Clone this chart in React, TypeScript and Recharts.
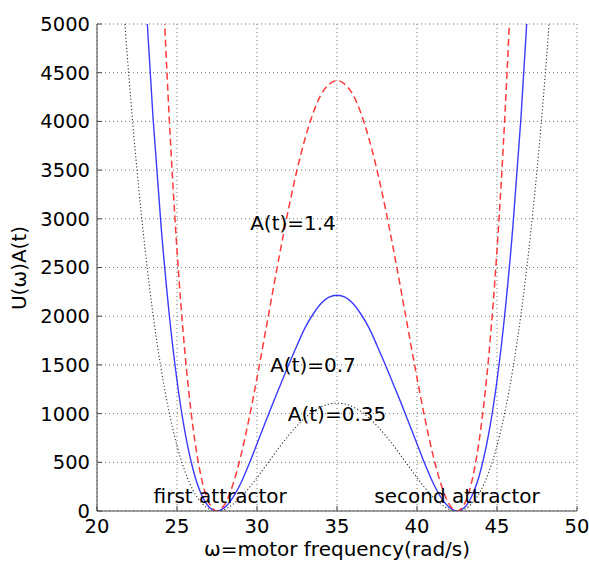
import React from 'react';
import { LineChart, Line, XAxis, YAxis, CartesianGrid, ReferenceDot, Label } from 'recharts';

// motor frequency samples (rad/s)
const omega = [
  21.5, 22, 22.5, 23, 23.5, 24, 24.5, 25, 25.5, 26, 26.5, 27, 27.5, 28, 28.5, 29, 29.5, 30, 30.5, 31,
  31.5, 32, 32.5, 33, 33.5, 34, 34.5, 35, 35.5, 36, 36.5, 37, 37.5, 38, 38.5, 39, 39.5, 40, 40.5, 41,
  41.5, 42, 42.5, 43, 43.5, 44, 44.5, 45, 45.5, 46, 46.5, 47, 47.5, 48, 48.5,
];

// U(w)A(t) for A(t)=1.4
const a140 = [
  22226, 17798, 14000, 10780, 8086, 5870, 4082, 2680, 1618, 858, 358, 84, 0, 74, 274, 574, 946, 1367, 1814, 2268,
  2710, 3126, 3500, 3822, 4082, 4274, 4380, 4420, 4380, 4274, 4082, 3822, 3500, 3126, 2710, 2268, 1814, 1367, 946, 574,
  274, 74, 0, 84, 358, 858, 1618, 2680, 4082, 5870, 8086, 10780, 14000, 17798, 22226,
];

// A(t)=0.7
const a070 = [
  11113, 8899, 7000, 5390, 4043, 2935, 2041, 1340, 809, 429, 179, 42, 0, 40, 140, 290, 480, 690, 900, 1110,
  1310, 1510, 1700, 1880, 2020, 2130, 2195, 2215, 2195, 2130, 2020, 1880, 1700, 1510, 1310, 1110, 900, 690, 480, 290,
  140, 40, 0, 42, 179, 429, 809, 1340, 2041, 2935, 4043, 5390, 7000, 8899, 11113,
];

// A(t)=0.35
const a035 = [
  5557, 4449, 3500, 2695, 2022, 1467, 1021, 670, 405, 214, 90, 21, 0, 18, 69, 144, 237, 342, 454, 567,
  678, 781, 875, 956, 1021, 1068, 1098, 1107, 1098, 1068, 1021, 956, 875, 781, 678, 567, 454, 342, 237, 144,
  69, 18, 0, 21, 90, 214, 405, 670, 1021, 1467, 2022, 2695, 3500, 4449, 5557,
];

const xTicks = [20, 25, 30, 35, 40, 45, 50];
const yTicks = [0, 500, 1000, 1500, 2000, 2500, 3000, 3500, 4000, 4500, 5000];

const notes = [
  { x: 32.25, y: 2960, text: 'A(t)=1.4' },
  { x: 33.5, y: 1500, text: 'A(t)=0.7' },
  { x: 35, y: 1000, text: 'A(t)=0.35' },
  { x: 27.7, y: 150, text: 'first attractor' },
  { x: 42.5, y: 150, text: 'second attractor' },
];

const data = omega.map((w, i) => ({ omega: w, a140: a140[i], a070: a070[i], a035: a035[i] }));

const tickStyle = { fontSize: 19.5, fill: '#000' };

export default function App() {
  return (
    <div style={{ position: 'absolute', left: 0, top: 0, background: '#fff', fontFamily: '"DejaVu Sans", sans-serif' }}>
      <LineChart width={589} height={563} data={data} margin={{ top: 24, right: 12, bottom: 0, left: 0 }}>
        <CartesianGrid stroke="#777" strokeDasharray="1 3" />
        <XAxis
          dataKey="omega"
          type="number"
          domain={[20, 50]}
          ticks={xTicks}
          height={52}
          stroke="#444"
          tickSize={-5}
          tickMargin={13}
          tick={tickStyle}
        >
          <Label value="ω=motor frequency(rad/s)" position="insideBottom" offset={7} fontSize={20} fill="#000" />
        </XAxis>
        <YAxis
          type="number"
          domain={[0, 5000]}
          allowDataOverflow
          ticks={yTicks}
          width={97}
          stroke="#444"
          tickSize={-5}
          tickMargin={12}
          tick={tickStyle}
        >
          <Label
            content={() => (
              <text x={19} y={268} transform="rotate(-90 19 268)" textAnchor="middle" dominantBaseline="central" fontSize={20} fill="#000">
                U(ω)A(t)
              </text>
            )}
          />
        </YAxis>
        <Line type="monotone" dataKey="a035" stroke="#333" strokeWidth={1.1} strokeDasharray="1.2 2.2" dot={false} activeDot={false} isAnimationActive={false} />
        <Line type="monotone" dataKey="a070" stroke="#3b3bff" strokeWidth={1.4} dot={false} activeDot={false} isAnimationActive={false} />
        <Line type="monotone" dataKey="a140" stroke="#ff3a3a" strokeWidth={1.5} strokeDasharray="7 4" dot={false} activeDot={false} isAnimationActive={false} />
        {notes.map((n) => (
          <ReferenceDot
            key={n.text}
            x={n.x}
            y={n.y}
            r={1}
            fill="none"
            stroke="none"
            label={{ value: n.text, position: 'center', fontSize: 20, fill: '#000' }}
          />
        ))}
      </LineChart>
    </div>
  );
}
